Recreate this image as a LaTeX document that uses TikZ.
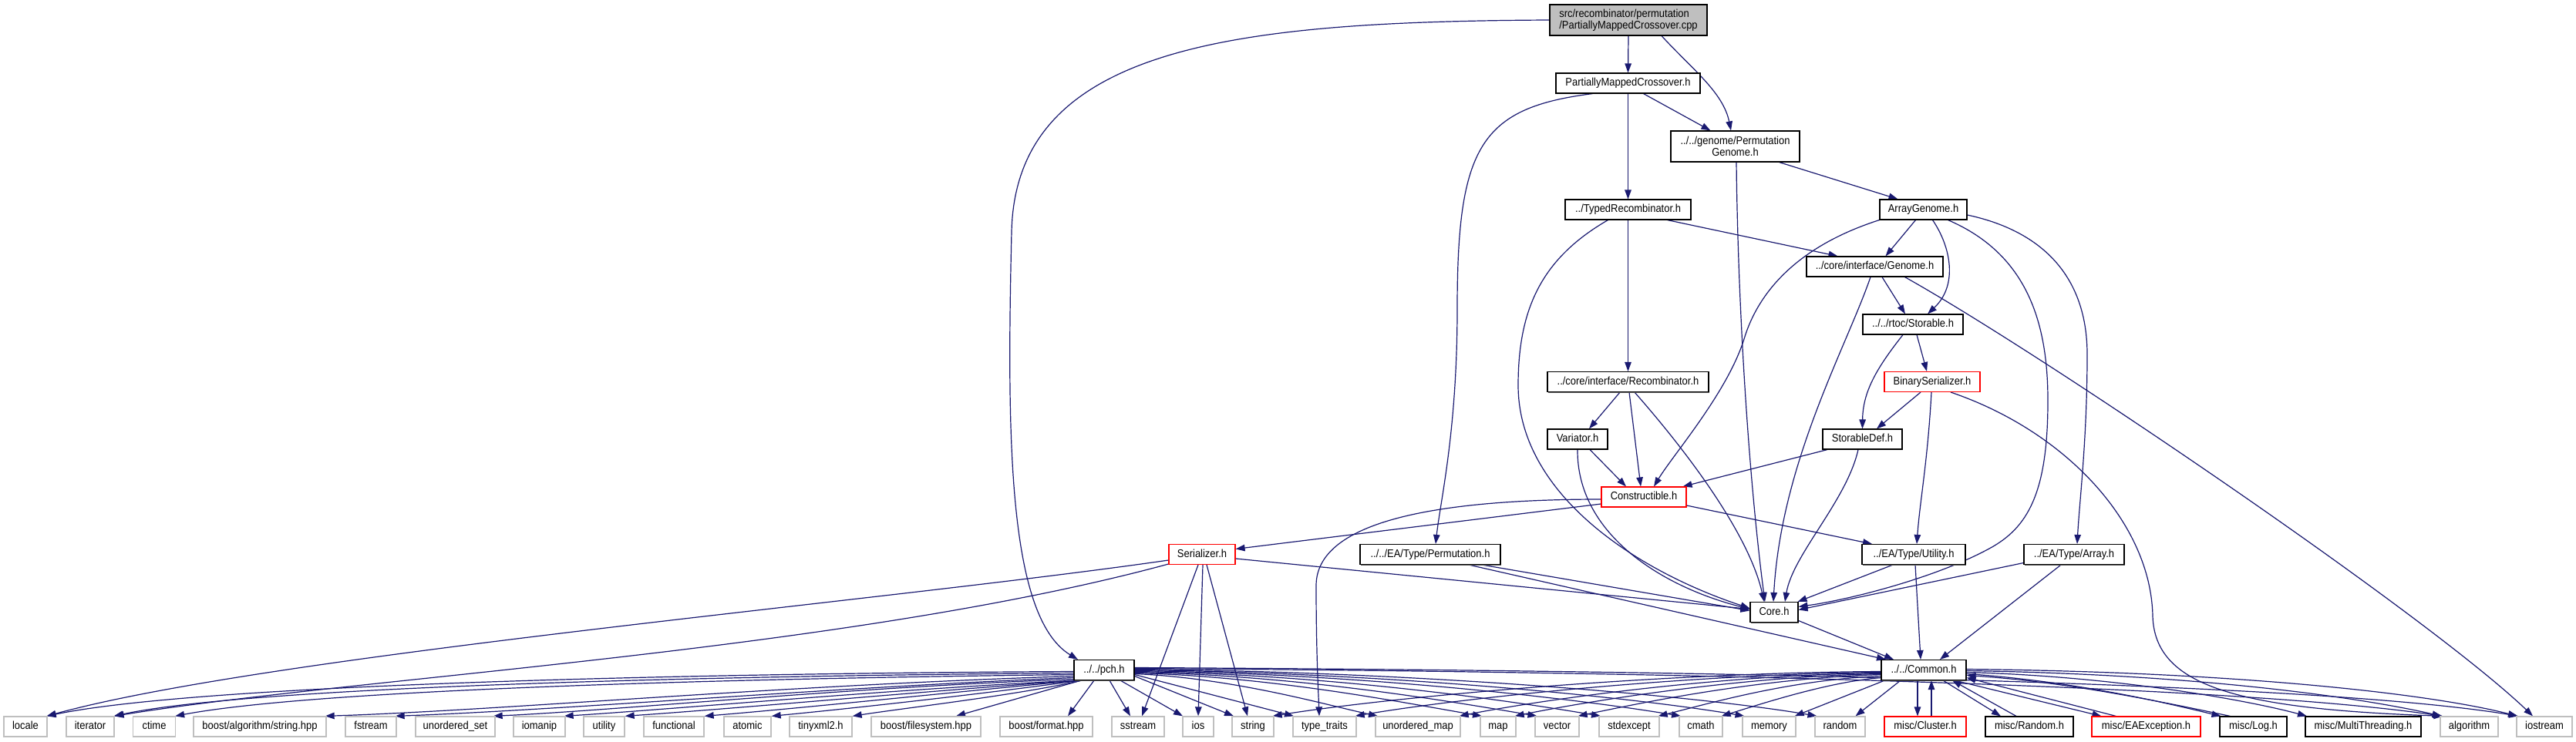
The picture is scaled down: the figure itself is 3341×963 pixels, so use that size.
\documentclass[tikz,border=0pt]{standalone}
\usepackage{fontspec}
\setmainfont{Liberation Sans}[FakeStretch=0.9]
\usetikzlibrary{arrows.meta,shadows}
\pgfdeclarelayer{edges}
\pgfsetlayers{edges,main}
\definecolor{eb}{RGB}{25,25,112}
\definecolor{gb}{RGB}{191,191,191}
\begin{document}
\begin{tikzpicture}[x=1pt,y=-1pt,
 box/.style={rectangle, inner sep=0pt, minimum height=26pt, fill=white, line width=1.1pt, font=\fontsize{14.4pt}{15pt}\selectfont},
 tx/.style={text height=10.3pt, text depth=3pt},
 shd/.style={drop shadow={shadow xshift=1.1pt, shadow yshift=-1.1pt, fill=black!65, opacity=1}},
 blk/.style={box, tx, draw=black, shd},
 blk2/.style={box, draw=black, shd},
 gry/.style={box, tx, draw=gb, line width=1.3pt},
 rd/.style={box, tx, draw=red},
 e/.style={draw=eb, line width=1.2pt, -{Triangle[length=12pt,width=8.5pt]}},
]
\useasboundingbox (0,0) rectangle (3341,963);

% ---------- nodes ----------
\node[blk2, fill=gb, minimum width=204pt, minimum height=40pt, align=left] (cpp) at (2112,26) {src/recombinator/permutation\\/PartiallyMappedCrossover.cpp};
\node[blk, minimum width=187pt] (pmch) at (2111.5,108) {PartiallyMappedCrossover.h};
\node[blk2, minimum width=167pt, minimum height=40pt, align=center] (permgen) at (2250.5,190) {../../genome/Permutation\\Genome.h};
\node[blk, minimum width=163pt] (typedrec) at (2111.5,272) {../TypedRecombinator.h};
\node[blk, minimum width=113pt] (arraygen) at (2494.5,272) {ArrayGenome.h};
\node[blk, minimum width=177pt] (genome) at (2431.5,346) {../core/interface/Genome.h};
\node[blk, minimum width=130pt] (storable) at (2481,421) {../../rtoc/Storable.h};
\node[blk, minimum width=209pt] (recomb) at (2111.5,495.5) {../core/interface/Recombinator.h};
\node[rd, minimum width=124pt] (binser) at (2506,495.5) {BinarySerializer.h};
\node[blk, minimum width=78pt] (variator) at (2046,570) {Variator.h};
\node[blk, minimum width=103pt] (storabledef) at (2415.5,570) {StorableDef.h};
\node[rd, minimum width=110pt] (constructible) at (2132,645) {Constructible.h};
\node[rd, minimum width=86pt] (serializer) at (1559,719.5) {Serializer.h};
\node[blk, minimum width=182pt] (eaperm) at (1855,719.5) {../../EA/Type/Permutation.h};
\node[blk, minimum width=134pt] (eautil) at (2482,719.5) {../EA/Type/Utility.h};
\node[blk, minimum width=130pt] (eaarray) at (2690,719.5) {../EA/Type/Array.h};
\node[blk, minimum width=62pt] (core) at (2301,794.5) {Core.h};
\node[blk, minimum width=78pt] (pch) at (1432,869.5) {../../pch.h};
\node[blk, minimum width=110pt] (common) at (2495,869.5) {../../Common.h};

% bottom row
\node[gry, minimum width=56pt] (locale) at (33,943) {locale};
\node[gry, minimum width=62pt] (iterator) at (117,943) {iterator};
\node[gry, minimum width=55pt] (ctime) at (200,943) {ctime};
\node[gry, minimum width=172pt] (bstring) at (337,943) {boost/algorithm/string.hpp};
\node[gry, minimum width=66pt] (fstream) at (481,943) {fstream};
\node[gry, minimum width=103pt] (uset) at (590.5,943) {unordered\_set};
\node[gry, minimum width=67pt] (iomanip) at (699.5,943) {iomanip};
\node[gry, minimum width=53pt] (utility) at (783.5,943) {utility};
\node[gry, minimum width=78pt] (functional) at (874,943) {functional};
\node[gry, minimum width=61pt] (atomic) at (969.5,943) {atomic};
\node[gry, minimum width=81pt] (tinyxml) at (1064.5,943) {tinyxml2.h};
\node[gry, minimum width=142pt] (bfs) at (1201,943) {boost/filesystem.hpp};
\node[gry, minimum width=120pt] (bformat) at (1357,943) {boost/format.hpp};
\node[gry, minimum width=68pt] (sstream) at (1476,943) {sstream};
\node[gry, minimum width=40pt] (ios) at (1554,943) {ios};
\node[gry, minimum width=54pt] (string) at (1625,943) {string};
\node[gry, minimum width=82pt] (typetraits) at (1718,943) {type\_traits};
\node[gry, minimum width=110pt] (umap) at (1839,943) {unordered\_map};
\node[gry, minimum width=46pt] (map) at (1943,943) {map};
\node[gry, minimum width=57pt] (vector) at (2019.5,943) {vector};
\node[gry, minimum width=78pt] (stdexcept) at (2113,943) {stdexcept};
\node[gry, minimum width=56pt] (cmath) at (2206,943) {cmath};
\node[gry, minimum width=69pt] (memory) at (2294.5,943) {memory};
\node[gry, minimum width=65pt] (random) at (2386.5,943) {random};
\node[rd, minimum width=106pt] (cluster) at (2497,943) {misc/Cluster.h};
\node[blk, minimum width=114pt] (mrandom) at (2632,943) {misc/Random.h};
\node[rd, minimum width=141pt] (eaexc) at (2783.5,943) {misc/EAException.h};
\node[blk, minimum width=87pt] (log) at (2922.5,943) {misc/Log.h};
\node[blk, minimum width=150pt] (mt) at (3065,943) {misc/MultiThreading.h};
\node[gry, minimum width=75pt] (algorithm) at (3202.5,943) {algorithm};
\node[gry, minimum width=72pt] (iostream) at (3300,943) {iostream};

% ---------- edges ----------
\begin{pgfonlayer}{edges}
% cpp
\draw[e] (cpp.south) -- (pmch.north);
\draw[e] ([xshift=43pt]cpp.south) .. controls (2195,90) and (2235,120) .. ([xshift=-5.5pt]permgen.north);
\draw[e] (cpp.west) .. controls (1600,28) and (1318,60) .. (1312,300) .. controls (1306,560) and (1306,800) .. ([xshift=-34pt]pch.north);
% pmch
\draw[e] ([xshift=20pt]pmch.south) -- ([xshift=-32pt]permgen.north);
\draw[e] (pmch.south) -- (typedrec.north);
\draw[e] ([xshift=-46pt]pmch.south) .. controls (1920,140) and (1890,190) .. (1890,400) .. controls (1890,560) and (1868,650) .. ([xshift=7pt]eaperm.north);
% permgen
\draw[e] ([xshift=57pt]permgen.south) -- ([xshift=-33pt]arraygen.north);
\draw[e] ([xshift=1.5pt]permgen.south) .. controls (2254,400) and (2268,620) .. ([xshift=-12pt]core.north);
% typedrec
\draw[e] ([xshift=51pt]typedrec.south) -- ([xshift=-48pt]genome.north);
\draw[e] ([xshift=-26pt]typedrec.south) .. controls (2000,335) and (1969,400) .. (1969,500) .. controls (1969,640) and (2120,740) .. ([yshift=5pt]core.west);
\draw[e] (typedrec.south) -- (recomb.north);
% arraygen
\draw[e] ([xshift=-10pt]arraygen.south) -- ([xshift=14pt]genome.north);
\draw[e] ([xshift=12pt]arraygen.south) .. controls (2530,320) and (2540,370) .. ([xshift=19pt]storable.north);
\draw[e] (arraygen.south west) .. controls (2330,320) and (2280,380) .. (2262,440) .. controls (2240,510) and (2170,590) .. ([xshift=13pt]constructible.north);
\draw[e] ([xshift=32pt]arraygen.south) .. controls (2630,330) and (2656,420) .. (2656,520) .. controls (2656,640) and (2630,685) .. (2580,712) .. controls (2510,750) and (2400,778) .. ([yshift=7pt]core.east);
\draw[e] ([yshift=-7pt]arraygen.east) .. controls (2650,300) and (2707,360) .. (2707,460) .. controls (2707,570) and (2697,650) .. ([xshift=4pt]eaarray.north);
% genome
\draw[e] ([xshift=9.5pt]genome.south) -- ([xshift=-10pt]storable.north);
\draw[e] ([xshift=-5.5pt]genome.south) .. controls (2395,450) and (2310,600) .. ([xshift=-1pt]core.north);
\draw[e] ([xshift=39pt]genome.south) .. controls (2650,460) and (3150,800) .. ([xshift=-15pt]iostream.north);
% storable
\draw[e] ([xshift=5pt]storable.south) -- ([xshift=-7pt]binser.north);
\draw[e] ([xshift=-13pt]storable.south) .. controls (2432,480) and (2416,510) .. (storabledef.north);
% recomb
\draw[e] ([xshift=-10.5pt]recomb.south) -- ([xshift=15pt]variator.north);
\draw[e] ([xshift=1.5pt]recomb.south) -- ([xshift=-4pt]constructible.north);
\draw[e] ([xshift=8.5pt]recomb.south) .. controls (2200,600) and (2270,700) .. ([xshift=-13pt]core.north);
% binser
\draw[e] ([xshift=-15pt]binser.south) -- ([xshift=18.5pt]storabledef.north);
\draw[e] ([xshift=-1pt]binser.south) .. controls (2500,600) and (2490,650) .. ([xshift=4pt]eautil.north);
\draw[e] ([xshift=24pt]binser.south) .. controls (2680,560) and (2790,680) .. (2792,800) .. controls (2795,890) and (2900,920) .. ([xshift=-34pt]algorithm.north);
% variator
\draw[e] ([xshift=16pt]variator.south) -- ([xshift=-23pt]constructible.north);
\draw[e] (variator.south) .. controls (2045,690) and (2150,760) .. ([yshift=4pt]core.west);
% storabledef
\draw[e] ([xshift=-45.5pt]storabledef.south) -- ([xshift=-5pt]constructible.north east);
\draw[e] ([xshift=-5.5pt]storabledef.south) .. controls (2395,650) and (2325,720) .. ([xshift=14pt]core.north);
% constructible
\draw[e] ([yshift=-9pt]constructible.west) -- ([yshift=7pt]serializer.east);
\draw[e] ([yshift=-3pt]constructible.west) .. controls (1850,648) and (1707,680) .. (1707,760) .. controls (1707,850) and (1710,900) .. ([xshift=-7pt]typetraits.north);
\draw[e] ([yshift=-11pt]constructible.east) -- ([xshift=-54pt]eautil.north);
% serializer
\draw[e] ([yshift=-5.5pt]serializer.east) -- ([yshift=4pt]core.west);
\draw[e] ([yshift=-7.5pt]serializer.west) .. controls (1150,780) and (350,850) .. ([xshift=-1pt]locale.north east);
\draw[e] ([yshift=-12.5pt]serializer.west) .. controls (1100,845) and (450,880) .. (iterator.north east);
\draw[e] ([xshift=-5pt]serializer.south) -- ([xshift=5pt]sstream.north);
\draw[e] ([xshift=1pt]serializer.south) -- (ios.north);
\draw[e] ([xshift=6pt]serializer.south) -- ([xshift=-7pt]string.north);
% eaperm
\draw[e] ([xshift=67pt]eaperm.south) -- ([yshift=2pt]core.west);
\draw[e] ([xshift=50pt]eaperm.south) -- ([xshift=-49pt]common.north);
% eautil
\draw[e] ([xshift=-27pt]eautil.south) -- ([xshift=-1pt]core.north east);
\draw[e] ([xshift=2pt]eautil.south) -- ([xshift=-4pt]common.north);
% eaarray
\draw[e] ([yshift=-11pt]eaarray.west) -- ([yshift=3pt]core.east);
\draw[e] ([xshift=-17pt]eaarray.south) -- ([xshift=21pt]common.north);
% core
\draw[e] ([yshift=-11pt]core.east) -- ([xshift=-39pt]common.north);
% pch -> left
\draw[e] ([yshift=-2pt]pch.west) .. controls (900,874) and (260,888) .. ([xshift=-1pt]locale.north east);
\draw[e] ([yshift=-4pt]pch.west) .. controls (950,877) and (330,890) .. ([xshift=-1pt]iterator.north east);
\draw[e] ([yshift=-6pt]pch.west) .. controls (1000,880) and (420,893) .. ([xshift=-1pt]ctime.north east);
\draw[e] ([yshift=-8pt]pch.west) .. controls (1000,890) and (650,922) .. ([xshift=-2pt]bstring.north east);
\draw[e] ([yshift=-10pt]pch.west) .. controls (1080,892) and (720,922) .. ([xshift=-2pt]fstream.north east);
\draw[e] ([yshift=-12pt]pch.west) .. controls (1100,892) and (800,922) .. ([xshift=-3pt]uset.north east);
\draw[e] ([xshift=3pt]pch.south west) .. controls (1150,895) and (880,920) .. ([xshift=-2pt]iomanip.north east);
\draw[e] ([xshift=5pt]pch.south west) .. controls (1200,897) and (950,920) .. (utility.north east);
\draw[e] ([xshift=7pt]pch.south west) .. controls (1240,898) and (1030,920) .. (functional.north east);
\draw[e] ([xshift=9pt]pch.south west) .. controls (1280,900) and (1100,920) .. (atomic.north east);
\draw[e] ([xshift=11pt]pch.south west) .. controls (1320,902) and (1180,918) .. (tinyxml.north east);
\draw[e] ([xshift=-30pt]pch.south) -- ([xshift=39pt]bfs.north);
\draw[e] ([xshift=-13pt]pch.south) -- ([xshift=28pt]bformat.north);
\draw[e] ([xshift=7pt]pch.south) -- ([xshift=-10pt]sstream.north);
\draw[e] ([xshift=21pt]pch.south) -- ([xshift=-20pt]ios.north);
% pch -> right
\draw[e] ([yshift=-8pt]pch.east) -- ([xshift=-25pt]string.north);
\draw[e] ([yshift=-6pt]pch.east) -- ([xshift=-40pt]typetraits.north);
\draw[e] ([yshift=-5pt]pch.east) .. controls (1600,880) and (1720,915) .. ([xshift=-52pt]umap.north);
\draw[e] ([yshift=-4pt]pch.east) .. controls (1650,878) and (1820,912) .. ([xshift=-21pt]map.north);
\draw[e] ([yshift=-3pt]pch.east) .. controls (1680,876) and (1880,910) .. ([xshift=-26pt]vector.north);
\draw[e] ([yshift=-2pt]pch.east) .. controls (1720,875) and (1950,908) .. ([xshift=-37pt]stdexcept.north);
\draw[e] ([yshift=-1pt]pch.east) .. controls (1760,874) and (2040,906) .. ([xshift=-26pt]cmath.north);
\draw[e] (pch.east) .. controls (1800,873) and (2120,905) .. ([xshift=-32pt]memory.north);
\draw[e] ([yshift=1pt]pch.east) .. controls (1850,872) and (2210,904) .. ([xshift=-30pt]random.north);
\draw[e] ([yshift=2pt]pch.east) .. controls (2200,872) and (2900,890) .. ([xshift=-35pt]algorithm.north);
\draw[e] ([yshift=3pt]pch.east) .. controls (2200,870) and (3000,885) .. ([xshift=-34pt]iostream.north);
% common -> left
\draw[e] ([yshift=-2pt]common.west) .. controls (2150,873) and (1800,905) .. ([xshift=-2pt]string.north east);
\draw[e] ([yshift=-3pt]common.west) .. controls (2180,875) and (1880,908) .. ([xshift=-2pt]typetraits.north east);
\draw[e] ([yshift=-4pt]common.west) .. controls (2220,876) and (1990,910) .. ([xshift=-2pt]umap.north east);
\draw[e] ([yshift=-5pt]common.west) .. controls (2250,878) and (2050,912) .. ([xshift=-2pt]map.north east);
\draw[e] ([yshift=-6pt]common.west) .. controls (2280,880) and (2120,914) .. ([xshift=-2pt]vector.north east);
\draw[e] ([yshift=-8pt]common.west) .. controls (2320,882) and (2210,915) .. ([xshift=-2pt]stdexcept.north east);
\draw[e] ([yshift=-10pt]common.west) .. controls (2370,885) and (2280,915) .. ([xshift=-2pt]cmath.north east);
\draw[e] ([xshift=5pt]common.south west) -- ([xshift=-2pt]memory.north east);
\draw[e] ([xshift=-30pt]common.south) -- ([xshift=20pt]random.north);
% common <-> misc
\draw[e] ([xshift=-8pt]common.south) -- ([xshift=-10pt]cluster.north);
\draw[e] ([xshift=8pt]cluster.north) -- ([xshift=10pt]common.south);
\draw[e] ([xshift=25pt]common.south) -- ([xshift=-37pt]mrandom.north);
\draw[e] ([xshift=-17pt]mrandom.north) -- ([xshift=37pt]common.south);
\draw[e] ([xshift=40pt]common.south) -- ([xshift=-58pt]eaexc.north);
\draw[e] ([xshift=-39pt]eaexc.north) -- ([yshift=-10pt]common.east);
\draw[e] ([yshift=-5pt]common.east) .. controls (2700,885) and (2820,915) .. ([xshift=-42pt]log.north);
\draw[e] ([xshift=-30pt]log.north) .. controls (2800,910) and (2680,885) .. ([yshift=-7pt]common.east);
\draw[e] ([yshift=-3pt]common.east) .. controls (2750,878) and (2920,910) .. ([xshift=-73pt]mt.north);
\draw[e] ([yshift=-1pt]common.east) .. controls (2850,875) and (3060,905) .. ([xshift=-36pt]algorithm.north);
\draw[e] ([yshift=1pt]common.east) .. controls (2900,872) and (3150,900) .. ([xshift=-35pt]iostream.north);
\end{pgfonlayer}
\end{tikzpicture}
\end{document}
